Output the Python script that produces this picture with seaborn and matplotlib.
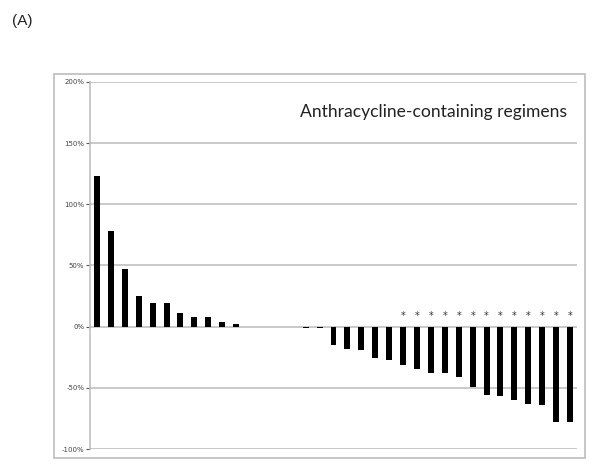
import numpy as np
import pandas as pd
import seaborn as sns
import matplotlib.pyplot as plt
from matplotlib.patches import Rectangle
from matplotlib.ticker import PercentFormatter

# percent change per patient, sorted (waterfall)
values = [123, 78, 47, 25, 19, 19, 11, 8, 8, 4, 2,
          0, 0, 0, 0,
          -1, -1, -15, -18, -19, -26, -27, -31, -35, -38, -38, -41,
          -49, -56, -57, -60, -63, -64, -78, -78]
starred = [False] * 22 + [True] * 13
patients = [str(i + 1) for i in range(len(values))]
yticks = [-100, -50, 0, 50, 100, 150, 200]
title = "Anthracycline-containing regimens"


def main():
    sns.set_theme(style='white')
    plt.rcParams['font.family'] = ['DejaVu Sans']
    plt.rcParams['axes.unicode_minus'] = False
    fig = plt.figure(figsize=(6, 4.7), dpi=100)

    # chart area frame like the spreadsheet chart
    fig.patches.append(Rectangle((54 / 600, 1 - 458 / 470), 531 / 600, 384 / 470,
                                 transform=fig.transFigure, fill=False,
                                 edgecolor='#bdbdbd', linewidth=1.2))

    ax = fig.add_axes([90 / 600, 1 - 449 / 470, 487 / 600, 367 / 470])
    data = pd.DataFrame({'patient': patients, 'change': values})
    sns.barplot(data=data, x='patient', y='change', order=patients,
                color='black', saturation=1, width=0.43, linewidth=0, ax=ax)

    ax.set_ylim(-100, 200)
    ax.set_xlim(-0.5, len(values) - 0.5)
    ax.set_yticks(yticks)
    ax.yaxis.set_major_formatter(PercentFormatter(decimals=0))
    ax.tick_params(axis='y', labelsize=5, colors='#555555', length=3, width=0.8,
                   left=True, pad=1)
    for lab in ax.get_yticklabels():
        lab.set_color('#444444')
    ax.set_xticks([])
    ax.set_xlabel('')
    ax.set_ylabel('')
    ax.grid(axis='y', color='#c0c0c0', linewidth=1.2)
    ax.set_axisbelow(True)
    for side in ['top', 'right', 'bottom']:
        ax.spines[side].set_visible(False)
    ax.spines['left'].set_color('#c0c0c0')
    ax.spines['left'].set_linewidth(1.2)

    for i, s in enumerate(starred):
        if s:
            ax.text(i, 5, '*', ha='center', va='bottom', fontsize=7, color='#333333')

    ax.text(0.98, 0.918, title, transform=ax.transAxes, ha='right', va='center',
            fontsize=12.6, family='Lato', color='#222222')

    fig.text(12 / 600, 1 - 21 / 470, '(A)', ha='left', va='center', fontsize=11,
             family='Liberation Sans', color='#222222')

    fig.savefig('out.png', dpi=100)


if __name__ == '__main__':
    main()
